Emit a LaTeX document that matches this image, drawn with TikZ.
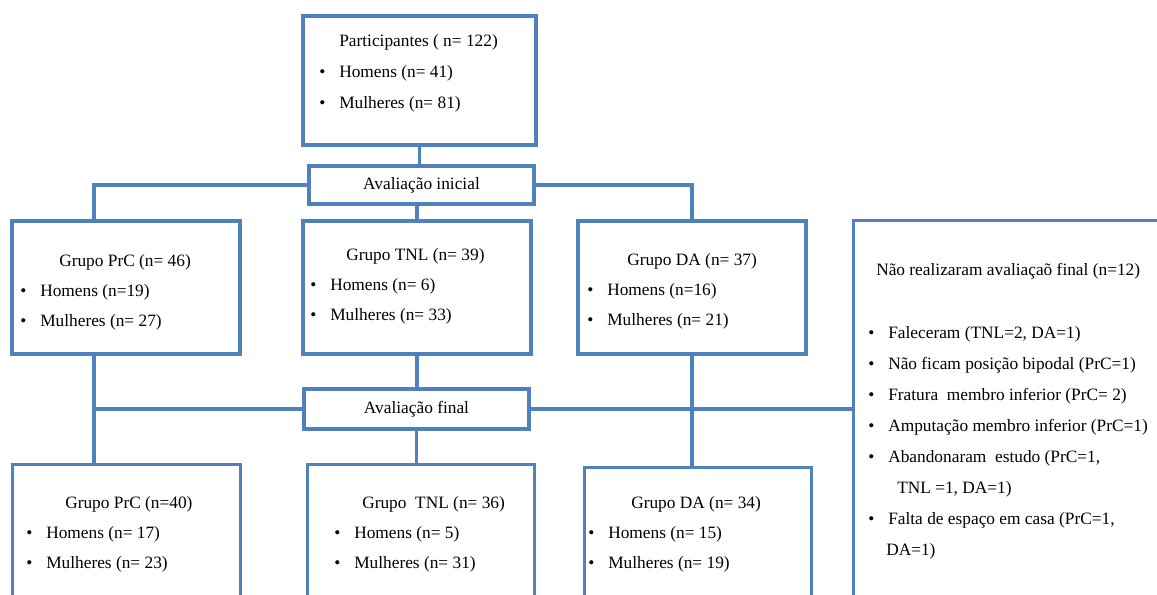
\documentclass[tikz,border=0pt]{standalone}
\usepackage{fontspec}
\setmainfont{Liberation Serif}
\definecolor{wordblue}{RGB}{79,129,189}
\newcommand{\bul}{\makebox[15pt][l]{\textbullet}}

\begin{document}
\begin{tikzpicture}[x=0.75pt,y=-0.75pt,
  box/.style={draw=wordblue, line width=2.5pt, fill=white, inner sep=0pt},
  grpbox/.style={box, minimum width=171pt, minimum height=99.75pt},
  evalbox/.style={box, minimum width=168.75pt, font=\fontsize{13}{22.5}\selectfont},
  link/.style={draw=wordblue, line width=2.5pt},
  txt/.style={font=\fontsize{13}{22.5}\selectfont, align=left, anchor=north west, inner sep=0pt},
  widetxt/.style={txt, font=\fontsize{13}{23.25}\selectfont}]
\useasboundingbox (0,0) rectangle (1157,594);
\clip (0,0) rectangle (1157,594);

\node[box, minimum width=174.75pt, minimum height=96.75pt] (part) at (419.5,80.5) {};
\node[evalbox, minimum height=28.5pt] (avini) at (421.5,185) {Avaliação inicial};
\node[grpbox] (prc1) at (126,287.5) {};
\node[grpbox] (tnl1) at (417,287.5) {};
\node[grpbox] (da1) at (692,287.5) {};
\node[evalbox, minimum height=30pt] (avfin) at (416.5,409) {Avaliação final};
\node[box, anchor=north west, minimum width=171pt, minimum height=150pt] (prc2) at (11,463) {};
\node[box, anchor=north west, minimum width=170pt, minimum height=150pt] (tnl2) at (306,463) {};
\node[box, anchor=north west, minimum width=170pt, minimum height=150pt] (da2) at (583,466) {};
\node[box, anchor=north west, minimum width=247.5pt, minimum height=300pt] (nao) at (852,219) {};

\draw[link] (part.south) -- (part.south |- avini.north);
\draw[link] (avini.west) -| ([xshift=-24pt]prc1.north);
\draw[link] (avini.east) -| (da1.north);
\draw[link] (tnl1.north |- avini.south) -- (tnl1.north);
\draw[link] ([xshift=-24pt]prc1.south) -- ([xshift=-24pt]prc1.south |- prc2.north);
\draw[link] (avfin.west) -- ([xshift=-24pt]prc1.south |- avfin.west);
\draw[link] (tnl1.south) -- (tnl1.south |- avfin.north);
\draw[link] (avfin.south) -- (avfin.south |- tnl2.north);
\draw[link] (avfin.east) -- (avfin.east -| nao.west);
\draw[link] (da1.south) -- (da1.south |- da2.north);

\node[widetxt] (part-txt) at (319,24.3) {\strut\hspace*{15pt}Participantes ( n= 122)\\
  \bul Homens (n= 41)\\ \bul Mulheres (n= 81)};
\node[txt] (prc1-txt) at (20,245) {\strut\hspace*{29.25pt}Grupo PrC (n= 46)\\
  \bul Homens (n=19)\\ \bul Mulheres (n= 27)};
\node[txt] (tnl1-txt) at (310,239) {\strut\hspace*{27pt}Grupo TNL (n= 39)\\
  \bul Homens (n= 6)\\ \bul Mulheres (n= 33)};
\node[txt] (da1-txt) at (587,244) {\strut\hspace*{30pt}Grupo DA (n= 37)\\
  \bul Homens (n=16)\\ \bul Mulheres (n= 21)};
\node[widetxt] (nao-txt) at (868,253.3) {\strut\hspace*{6pt}Não realizaram avaliaçaõ final (n=12)\\[24pt]
  \bul Faleceram (TNL=2, DA=1)\\
  \bul Não ficam posição bipodal (PrC=1)\\
  \bul Fratura\ \ membro inferior (PrC= 2)\\
  \bul Amputação membro inferior (PrC=1)\\
  \bul Abandonaram\ \ estudo (PrC=1,\\
  \hspace*{21.75pt}TNL =1, DA=1)\\
  \bul Falta de espaço em casa (PrC=1,\\
  \hspace*{13.5pt}DA=1)};
\node[txt] (prc2-txt) at (26,487) {\strut\hspace*{29.25pt}Grupo PrC (n=40)\\
  \bul Homens (n= 17)\\ \bul Mulheres (n= 23)};
\node[txt] (tnl2-txt) at (334,487) {\strut\hspace*{21pt}Grupo\ \ TNL (n= 36)\\
  \bul Homens (n= 5)\\ \bul Mulheres (n= 31)};
\node[txt] (da2-txt) at (588,487) {\strut\hspace*{32.25pt}Grupo DA (n= 34)\\
  \bul Homens (n= 15)\\ \bul Mulheres (n= 19)};
\end{tikzpicture}
\end{document}
